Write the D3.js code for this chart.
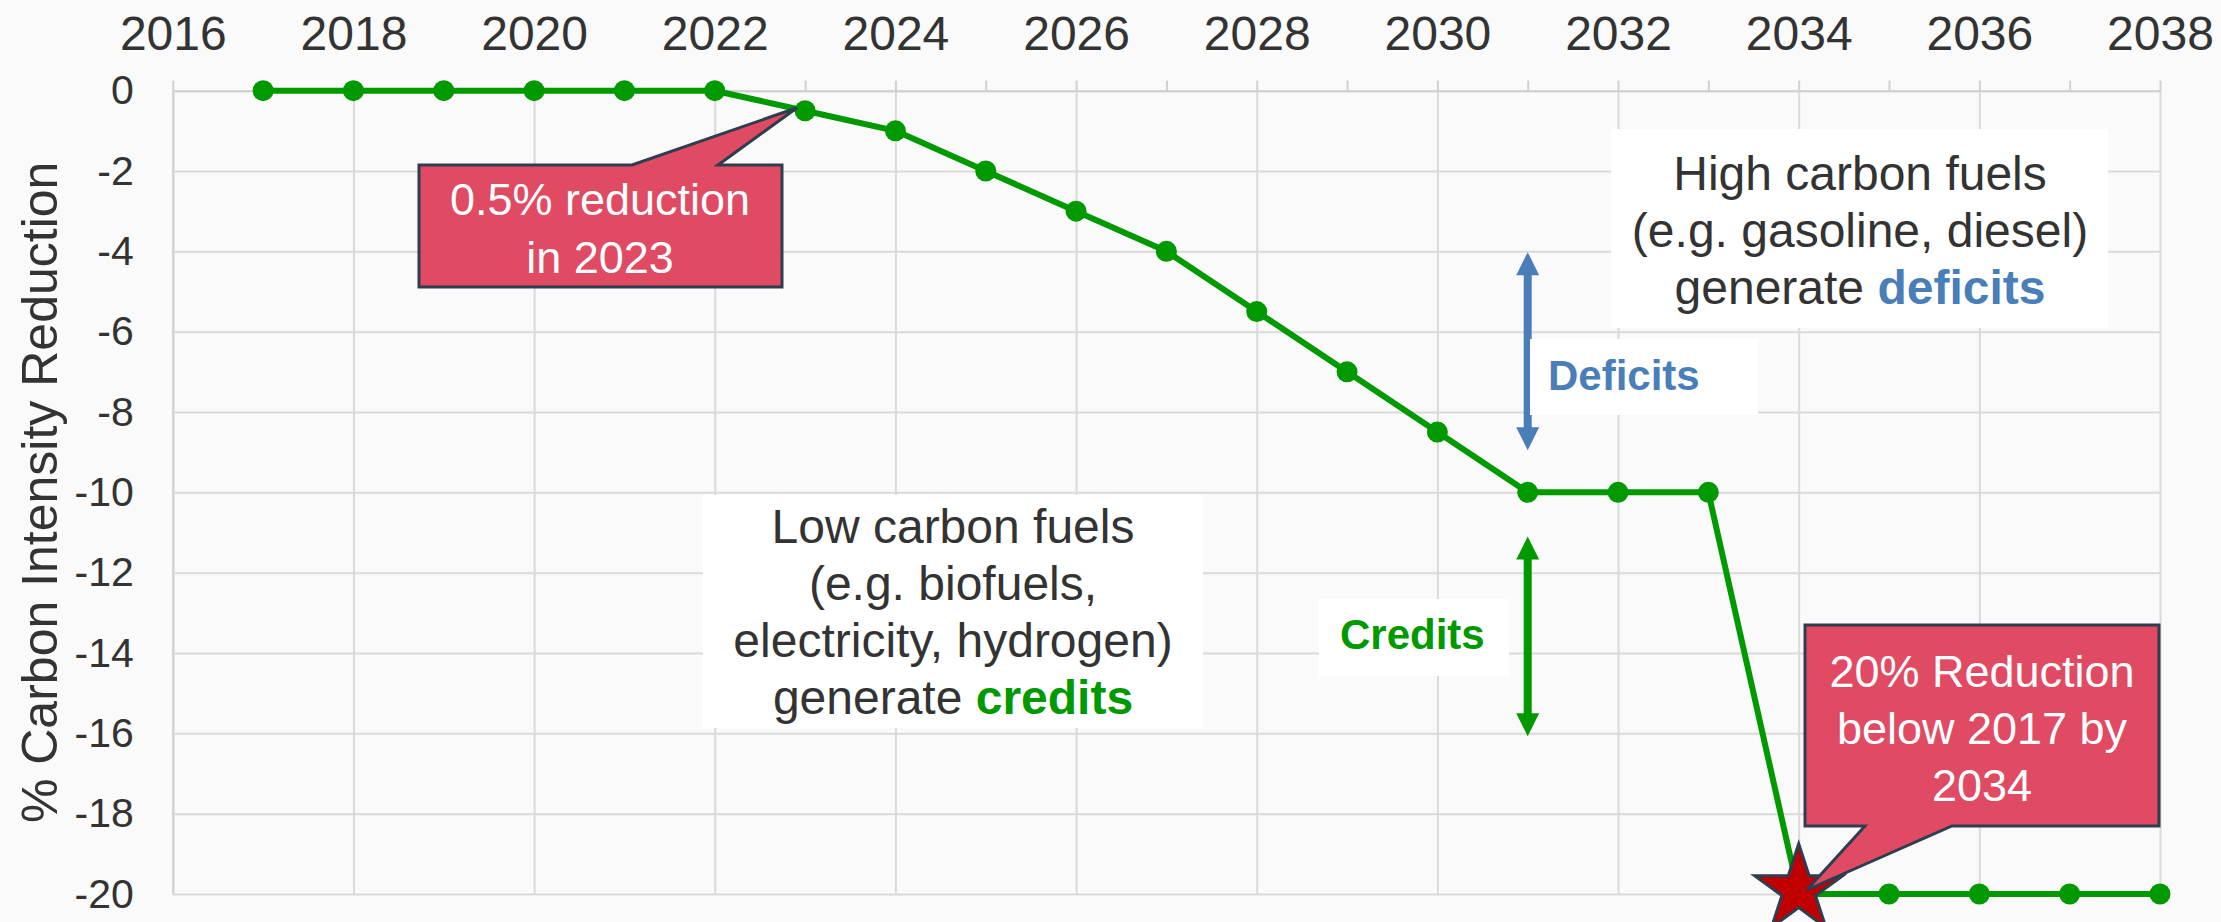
<!DOCTYPE html>
<html>
<head>
<meta charset="utf-8">
<script src="https://cdn.jsdelivr.net/npm/d3@7"></script>
<style>
    body { margin: 0; background: #fafafa; }
    svg { display: block; }
</style>
</head>
<body>
<script>
// データ
const years = [2017, 2018, 2019, 2020, 2021, 2022, 2023, 2024, 2025, 2026, 2027,
    2028, 2029, 2030, 2031, 2032, 2033, 2034, 2035, 2036, 2037, 2038];
const reduction = [0, 0, 0, 0, 0, 0, -0.5, -1, -2, -3, -4,
    -5.5, -7, -8.5, -10, -10, -10, -20, -20, -20, -20, -20];
const xTickYears = [2016, 2018, 2020, 2022, 2024, 2026, 2028, 2030, 2032, 2034, 2036, 2038];
const yTickValues = [0, -2, -4, -6, -8, -10, -12, -14, -16, -18, -20];
const yTickLabels = ["0", "-2", "-4", "-6", "-8", "-10", "-12", "-14", "-16", "-18", "-20"];
const targetYear = 2034;
const yTitle = "% Carbon Intensity Reduction";
const highCarbonLines = ["High carbon fuels", "(e.g. gasoline, diesel)", "generate "];
const lowCarbonLines = ["Low carbon fuels", "(e.g. biofuels,", "electricity, hydrogen)", "generate "];
const callout2023Lines = ["0.5% reduction", "in 2023"];
const callout2034Lines = ["20% Reduction", "below 2017 by", "2034"];

let width = 2221;
let height = 922;
let marginTop = 90.7;
let marginRight = 61;
let marginBottom = 28;
let marginLeft = 172.8;

const green = "#009900";
const blue = "#4a7eb8";
const textColor = "#333333";
const gridColor = "#dadada";
const font = "'Liberation Sans', Arial, sans-serif";

let chartWidth = width - marginLeft - marginRight;
let chartHeight = height - marginTop - marginBottom;

const svg = d3.select("body")
    .append("svg")
    .attr("width", width)
    .attr("height", height)
    .attr("font-family", font);

svg.append("rect")
    .attr("width", width)
    .attr("height", height)
    .attr("fill", "#fafafa");

let xScale = d3.scaleLinear()
    .domain([2016, 2038])
    .range([marginLeft, marginLeft + chartWidth]);
let yScale = d3.scaleLinear()
    .domain([-20, 0])
    .range([marginTop + chartHeight, marginTop]);

// grid lines
svg.append("g")
    .attr("transform", "translate(" + marginLeft + ",0)")
    .call(d3.axisLeft(yScale).tickValues(yTickValues).tickSize(-chartWidth).tickFormat(""))
    .call(g => g.select(".domain").remove())
    .call(g => g.selectAll("line").attr("stroke", gridColor).attr("stroke-width", 2));

svg.append("g")
    .attr("transform", "translate(0," + marginTop + ")")
    .call(d3.axisBottom(xScale).tickValues(xTickYears).tickSize(chartHeight).tickFormat(""))
    .call(g => g.select(".domain").remove())
    .call(g => g.selectAll("line").attr("stroke", gridColor).attr("stroke-width", 2));

// y axis
let yAxis = svg.append("g")
    .attr("transform", "translate(" + marginLeft + ",0)")
    .call(d3.axisLeft(yScale)
        .tickValues(yTickValues)
        .tickSize(0)
        .tickPadding(39)
        .tickFormat((d, i) => yTickLabels[i]));
yAxis.select(".domain").attr("stroke", "#d0d0d0").attr("stroke-width", 2);
yAxis.selectAll("text")
    .attr("font-size", "41px")
    .attr("font-family", font)
    .attr("fill", textColor);

svg.append("text")
    .attr("transform", "translate(57," + (marginTop + chartHeight / 2) + ") rotate(-90)")
    .attr("text-anchor", "middle")
    .attr("font-size", "50px")
    .attr("fill", textColor)
    .text(yTitle);

// x axis (top)
let xAxis = svg.append("g")
    .attr("transform", "translate(0," + marginTop + ")")
    .call(d3.axisTop(xScale)
        .ticks(22)
        .tickSizeInner(10)
        .tickSizeOuter(0)
        .tickPadding(31)
        .tickFormat(d => xTickYears.includes(d) ? String(d) : ""));
xAxis.select(".domain").attr("stroke", "#d0d0d0").attr("stroke-width", 2);
xAxis.selectAll("line").attr("stroke", "#d0d0d0").attr("stroke-width", 2);
xAxis.selectAll("text")
    .attr("font-size", "48px")
    .attr("font-family", font)
    .attr("fill", textColor);

// text boxes
function textBox(x0, y0, x1, y1, lines, cx, baseline, lastWord, lastColor) {
    svg.append("rect")
        .attr("x", x0).attr("y", y0)
        .attr("width", x1 - x0).attr("height", y1 - y0)
        .attr("fill", "#ffffff");
    let t = svg.append("text")
        .attr("text-anchor", "middle")
        .attr("font-size", "48px")
        .attr("fill", textColor);
    lines.forEach((l, i) => {
        t.append("tspan").attr("x", cx).attr("y", baseline + i * 57).text(l);
        if (i === lines.length - 1) {
            t.append("tspan").attr("font-weight", "bold").attr("fill", lastColor).text(lastWord);
        }
    });
}

textBox(1611, 129, 2108, 328, highCarbonLines, 1860, 190, "deficits", blue);
textBox(703, 495, 1203, 728, lowCarbonLines, 953, 543, "credits", green);

// arrows
function doubleArrow(year, v0, v1, color) {
    let ax = xScale(year);
    let yTop = yScale(v0);
    let yBot = yScale(v1);
    let head = 23;
    svg.append("line")
        .attr("x1", ax).attr("x2", ax)
        .attr("y1", yTop + head - 2).attr("y2", yBot - head + 2)
        .attr("stroke", color).attr("stroke-width", 8);
    svg.append("path")
        .attr("d", "M" + ax + "," + yTop + "L" + (ax - 11.5) + "," + (yTop + head) + "L" + (ax + 11.5) + "," + (yTop + head) + "Z")
        .attr("fill", color);
    svg.append("path")
        .attr("d", "M" + ax + "," + yBot + "L" + (ax - 11.5) + "," + (yBot - head) + "L" + (ax + 11.5) + "," + (yBot - head) + "Z")
        .attr("fill", color);
}

doubleArrow(2031, -4.02, -8.95, blue);
doubleArrow(2031, -11.1, -16.07, green);

svg.append("rect").attr("x", 1530).attr("y", 339).attr("width", 228).attr("height", 76).attr("fill", "#ffffff");
svg.append("text").attr("x", 1548).attr("y", 390)
    .attr("font-size", "42px").attr("font-weight", "bold").attr("fill", blue).text("Deficits");

svg.append("rect").attr("x", 1319).attr("y", 599).attr("width", 190).attr("height", 77).attr("fill", "#ffffff");
svg.append("text").attr("x", 1340).attr("y", 649)
    .attr("font-size", "42px").attr("font-weight", "bold").attr("fill", green).text("Credits");

// line + markers
const line = d3.line()
    .x((d, i) => xScale(years[i]))
    .y(d => yScale(d));

svg.append("path")
    .datum(reduction)
    .attr("fill", "none")
    .attr("stroke", green)
    .attr("stroke-width", 6)
    .attr("stroke-linejoin", "round")
    .attr("d", line);

svg.append("g")
    .selectAll("circle")
    .data(reduction.map((v, i) => ({ year: years[i], value: v })).filter(d => d.year !== targetYear))
    .join("circle")
    .attr("cx", d => xScale(d.year))
    .attr("cy", d => yScale(d.value))
    .attr("r", 10.5)
    .attr("fill", green);

let targetValue = reduction[years.indexOf(targetYear)];
svg.append("path")
    .attr("d", d3.symbol().type(d3.symbolStar).size(2400))
    .attr("transform", "translate(" + xScale(targetYear) + "," + (yScale(targetValue) - 4) + ")")
    .attr("fill", "#c00000")
    .attr("stroke", "#2e3d4f")
    .attr("stroke-width", 3);

// callouts
const calloutFill = "#e04a63";
const calloutStroke = "#2e3d4f";

let p23x = xScale(2023) - 8;
let p23y = yScale(reduction[years.indexOf(2023)]) - 3;
svg.append("path")
    .attr("d", "M419,165L632,165L" + p23x + "," + p23y + "L718,165L782,165L782,287L419,287Z")
    .attr("fill", calloutFill)
    .attr("stroke", calloutStroke)
    .attr("stroke-width", 3);
let t23 = svg.append("text").attr("text-anchor", "middle").attr("font-size", "45px").attr("fill", "#ffffff");
callout2023Lines.forEach((l, i) => t23.append("tspan").attr("x", 600).attr("y", 215 + i * 58).text(l));

let p34x = xScale(targetYear) + 8;
let p34y = yScale(targetValue) - 4;
svg.append("path")
    .attr("d", "M1805,625L2159,625L2159,826L1952,826L" + p34x + "," + p34y + "L1865,826L1805,826Z")
    .attr("fill", calloutFill)
    .attr("stroke", calloutStroke)
    .attr("stroke-width", 3);
let t34 = svg.append("text").attr("text-anchor", "middle").attr("font-size", "45px").attr("fill", "#ffffff");
callout2034Lines.forEach((l, i) => t34.append("tspan").attr("x", 1982).attr("y", 687 + i * 57).text(l));
</script>
</body>
</html>
